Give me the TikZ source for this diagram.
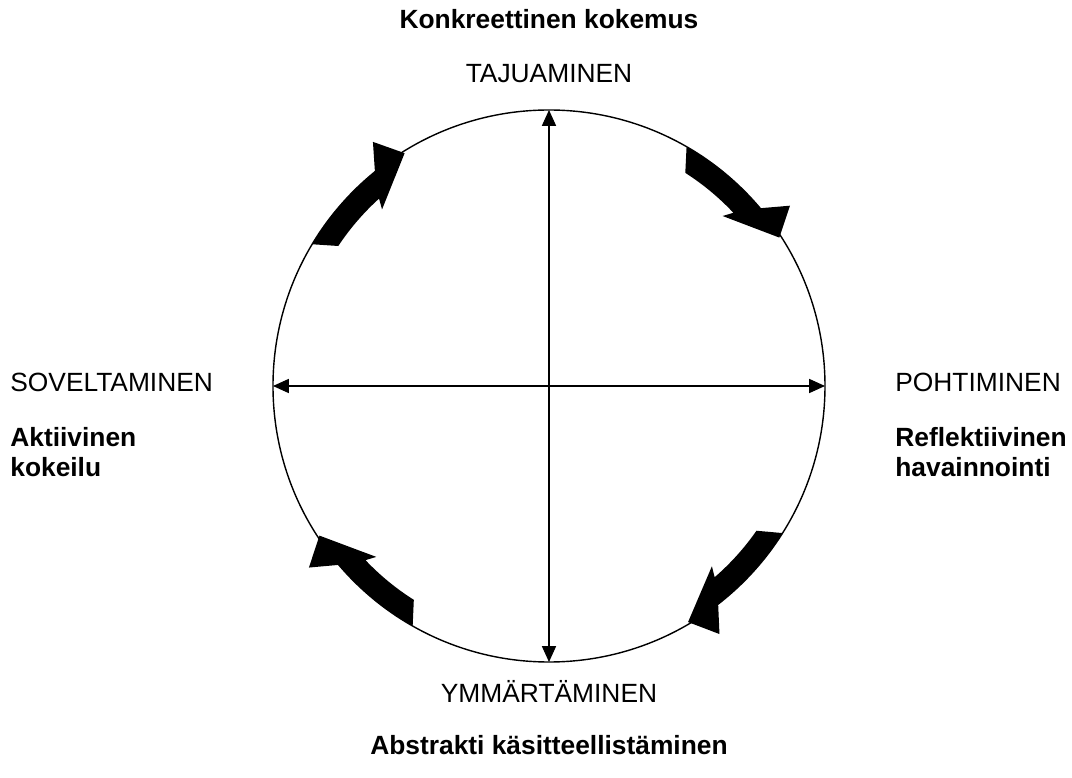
\documentclass[tikz,border=0pt]{standalone}
\usepackage{fontspec}
\setmainfont{Liberation Sans}
\usetikzlibrary{arrows.meta,positioning,calc}

\tikzset{
  stagelbl/.style={font=\fontsize{15}{17}\selectfont, inner sep=0pt},
  modelbl/.style={font=\fontsize{15}{17}\selectfont\bfseries, inner sep=0pt, align=left},
  axisline/.style={{Triangle[length=9pt,width=8pt]}-{Triangle[length=9pt,width=8pt]}, line width=0.6pt},
}

\begin{document}
\begin{tikzpicture}
  \useasboundingbox (-10.98,-7.84) rectangle (10.46,7.72);
  \def\rad{5.52}
  \draw[line width=0.8pt] (0,0) circle (\rad);
  \coordinate (top) at (90:\rad);
  \coordinate (bot) at (270:\rad);
  \coordinate (lft) at (180:\rad);
  \coordinate (rgt) at (0:\rad);
  \draw[axisline] (bot) -- (top);
  \draw[axisline] (lft) -- (rgt);
  % curved cycle arrows, clockwise
  \foreach \t in {121.8,32.8,-59.5,213.1}{
    \fill ({\t+27.3}:\rad) arc[start angle=\t+27.3, end angle=\t+7.3, radius=\rad]
      -- ({\t+4}:{\rad+0.5}) -- (\t:{\rad-0.04}) -- ({\t+11.6}:{\rad-0.66})
      -- ({\t+10.4}:{\rad-0.46})
      arc[start angle=\t+10.4, end angle=\t+24.6, radius=\rad-0.46] -- cycle;
  }
  % labels
  \node[modelbl, anchor=base] (konkr) at (0,7.14) {Konkreettinen kokemus};
  \node[stagelbl, anchor=base] (taju) at (0,6.06) {TAJUAMINEN};
  \node[stagelbl, anchor=base west] (sovel) at (-10.78,-0.12) {SOVELTAMINEN};
  \node[modelbl, anchor=north west] (aktiiv) at (-10.78,-0.82) {Aktiivinen\\kokeilu};
  \node[stagelbl, anchor=base west] (pohti) at (6.92,-0.12) {POHTIMINEN};
  \node[modelbl, anchor=north west] (reflek) at (6.92,-0.82) {Reflektiivinen\\havainnointi};
  \node[stagelbl, anchor=base] (ymmar) at (0,-6.32) {YMMÄRTÄMINEN};
  \node[modelbl, anchor=base] (abstr) at (0,-7.36) {Abstrakti käsitteellistäminen};
\end{tikzpicture}
\end{document}
